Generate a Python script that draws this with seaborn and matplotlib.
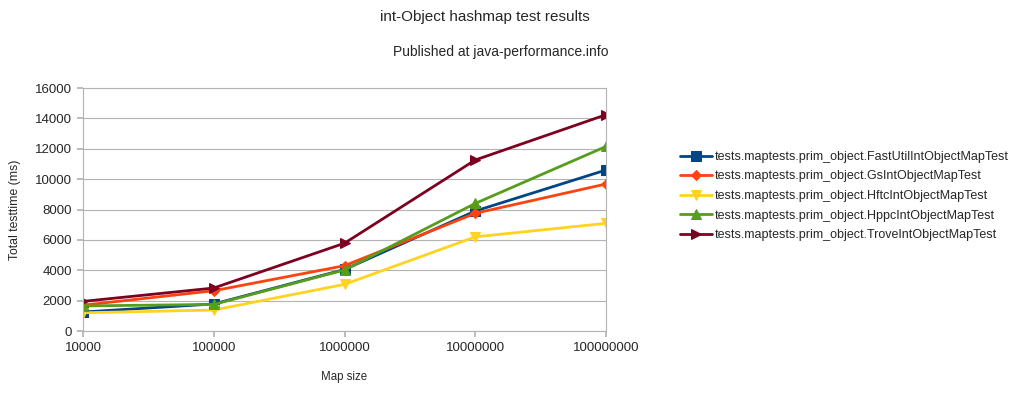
import matplotlib.pyplot as plt
import matplotlib.ticker as mticker
import pandas as pd
import seaborn as sns

map_sizes = [10000, 100000, 1000000, 10000000, 100000000]
fastutil = [1250, 1780, 4050, 7900, 10600]
gs = [1700, 2650, 4300, 7750, 9680]
hftc = [1200, 1380, 3070, 6200, 7090]
hppc = [1650, 1750, 4020, 8400, 12150]
trove = [1950, 2830, 5780, 11260, 14240]

series_names = [
    "tests.maptests.prim_object.FastUtilIntObjectMapTest",
    "tests.maptests.prim_object.GsIntObjectMapTest",
    "tests.maptests.prim_object.HftcIntObjectMapTest",
    "tests.maptests.prim_object.HppcIntObjectMapTest",
    "tests.maptests.prim_object.TroveIntObjectMapTest",
]
colors = ["#004586", "#ff420e", "#ffd320", "#579d1c", "#7e0021"]
markers = ["s", "D", "v", "^", ">"]
marker_sizes = [7, 5, 7, 7, 7]

frames = []
for name, vals in zip(series_names, [fastutil, gs, hftc, hppc, trove]):
    frames.append(pd.DataFrame({"size": map_sizes, "time": vals, "test": name}))
df = pd.concat(frames, ignore_index=True)

sns.set_theme(style="white")
plt.rcParams["font.family"] = ["Liberation Sans", "DejaVu Sans"]

fig = plt.figure(figsize=(10.15, 3.95), dpi=100)
ax = fig.add_axes([83 / 1015, 1 - 331 / 395, 523 / 1015, 243 / 395])

for name, c, m, ms in zip(series_names, colors, markers, marker_sizes):
    sub = df[df["test"] == name]
    sns.lineplot(data=sub, x="size", y="time", ax=ax, color=c, marker=m,
                 markersize=ms, markeredgecolor=c, linewidth=2, label=name)

ax.set_xscale("log")
ax.set_xlim(map_sizes[0], map_sizes[-1])
ax.set_ylim(0, 16000)
ax.xaxis.set_major_locator(mticker.FixedLocator(map_sizes))
ax.xaxis.set_major_formatter(mticker.FixedFormatter([str(s) for s in map_sizes]))
ax.xaxis.set_minor_locator(mticker.NullLocator())
ax.yaxis.set_major_locator(mticker.MultipleLocator(2000))
ax.yaxis.grid(True, color="#b3b3b3", linewidth=0.8)
ax.tick_params(axis="both", length=4, color="#b3b3b3", labelsize=9.5,
               bottom=True, left=True, pad=4)
for sp in ax.spines.values():
    sp.set_color("#b3b3b3")
    sp.set_linewidth(0.8)

ax.set_xlabel("Map size", fontsize=8.3, labelpad=12)
ax.set_ylabel("Total testtime (ms)", fontsize=8.8, labelpad=10)

fig.text(485 / 1015, 1 - 17 / 395, "int-Object hashmap test results",
         ha="center", va="center", fontsize=11)
fig.text(501 / 1015, 1 - 52 / 395, "Published at java-performance.info",
         ha="center", va="center", fontsize=10)

ax.legend(loc="center left", bbox_to_anchor=(669 / 1015, 1 - 196 / 395),
          bbox_transform=fig.transFigure, frameon=False, fontsize=9,
          handlelength=2.5, handletextpad=0.3, labelspacing=0.6)

fig.savefig("out.png", dpi=100)
